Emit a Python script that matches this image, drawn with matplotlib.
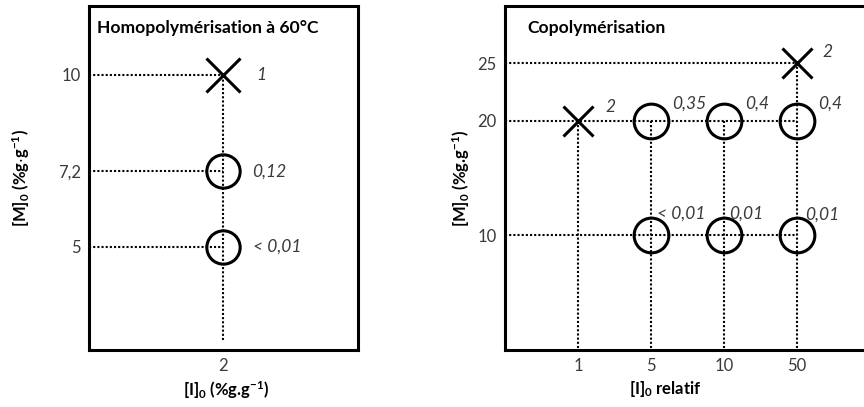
import matplotlib
matplotlib.use("Agg")
import matplotlib.pyplot as plt

plt.rcParams['font.family'] = ['Lato', 'DejaVu Sans']
plt.rcParams['mathtext.default'] = 'regular'

# homopolymerisation panel
homo_I = [2, 2, 2]
homo_M = [10, 7.2, 5]
homo_kind = ['x', 'o', 'o']
homo_labels = ['1', '0,12', '< 0,01']
homo_yticks = [10, 7.2, 5]
homo_yticklabels = ['10', '7,2', '5']

# copolymerisation panel (x = index into copo_xticklabels)
copo_xticklabels = ['1', '5', '10', '50']
copo_I = [3, 0, 1, 2, 3, 1, 2, 3]
copo_M = [25, 20, 20, 20, 20, 10, 10, 10]
copo_kind = ['x', 'x', 'o', 'o', 'o', 'o', 'o', 'o']
copo_labels = ['2', '2', '0,35', '0,4', '0,4', '< 0,01', '0,01', '0,01']
copo_yticks = [25, 20, 10]

# label offsets in points (layout only)
homo_offsets = [(24, 0), (21, 0), (21, 0)]
copo_offsets = [(18, 8), (20, 10), (15, 12), (15, 12), (15, 12), (4, 16), (4, 16), (6, 15)]

TXT = '#3a3a3a'


def draw_points(ax, xs, ys, kinds, labels, offsets, ms_o, ms_x):
    for x, y, k, lab, off in zip(xs, ys, kinds, labels, offsets):
        if k == 'x':
            ax.plot(x, y, marker='x', ms=ms_x, mew=2.2, color='black', zorder=3)
        else:
            ax.plot(x, y, marker='o', ms=ms_o, mew=2.2, mfc='none', mec='black', zorder=3)
        ax.annotate(lab, (x, y), xytext=off, textcoords='offset points',
                    fontsize=12.5, style='italic', color=TXT, va='center', ha='left')


def style_axes(ax):
    for s in ax.spines.values():
        s.set_linewidth(2.2)
    ax.tick_params(length=0, labelsize=12, labelcolor=TXT, pad=6)


fig = plt.figure(figsize=(8.64, 4.07), dpi=100)

# left panel
ax1 = fig.add_axes([0.103, 0.140, 0.311, 0.845])
ax1.set_xlim(1, 3)
ax1.set_ylim(2, 12)
dot = (0, (1, 1))
for x, y in zip(homo_I, homo_M):
    ax1.hlines(y, 1, x, colors='black', linestyles=dot, lw=1.5, zorder=2)
ax1.vlines(homo_I[0], 2.3, max(homo_M), colors='black', linestyles=dot, lw=1.5, zorder=2)
draw_points(ax1, homo_I, homo_M, homo_kind, homo_labels, homo_offsets, 24, 25)
ax1.set_xticks([2])
ax1.set_xticklabels(['2'])
ax1.set_yticks(homo_yticks)
ax1.set_yticklabels(homo_yticklabels)
style_axes(ax1)
ax1.text(0.03, 0.935, 'Homopolymérisation à 60°C', transform=ax1.transAxes,
         fontsize=12.6, fontweight='bold', va='center', ha='left')
ax1.set_ylabel(r'[M]$_0$ (%g$\cdot$g$^{-1}$)', fontsize=12, fontweight='bold')
ax1.yaxis.set_label_coords(-0.212, 0.5)
ax1.set_xlabel(r'[I]$_0$ (%g.g$^{-1}$)', fontsize=12, fontweight='bold')
ax1.xaxis.set_label_coords(0.51, -0.085)

# right panel (right edge runs off the figure, as in the reference)
ax2 = fig.add_axes([0.5845, 0.140, 0.4225, 0.845])
ax2.set_xlim(-1, 4)
ax2.set_ylim(0, 30)
for y in sorted(set(copo_M)):
    xmax = max(x for x, m in zip(copo_I, copo_M) if m == y)
    ax2.hlines(y, -1, xmax, colors='black', linestyles=dot, lw=1.5, zorder=2)
for x in sorted(set(copo_I)):
    ymax = max(m for i, m in zip(copo_I, copo_M) if i == x)
    ax2.vlines(x, 0.2, ymax, colors='black', linestyles=dot, lw=1.5, zorder=2)
draw_points(ax2, copo_I, copo_M, copo_kind, copo_labels, copo_offsets, 25, 21)
ax2.set_xticks(range(len(copo_xticklabels)))
ax2.set_xticklabels(copo_xticklabels)
ax2.set_yticks(copo_yticks)
style_axes(ax2)
ax2.text(0.06, 0.935, 'Copolymérisation', transform=ax2.transAxes,
         fontsize=12.6, fontweight='bold', va='center', ha='left')
ax2.set_ylabel(r'[M]$_0$ (%g.g$^{-1}$)', fontsize=12, fontweight='bold')
ax2.yaxis.set_label_coords(-0.09, 0.5)
ax2.set_xlabel(r'[I]$_0$ relatif', fontsize=12, fontweight='bold')
ax2.xaxis.set_label_coords(0.438, -0.085)

fig.savefig('out.png', dpi=100)
